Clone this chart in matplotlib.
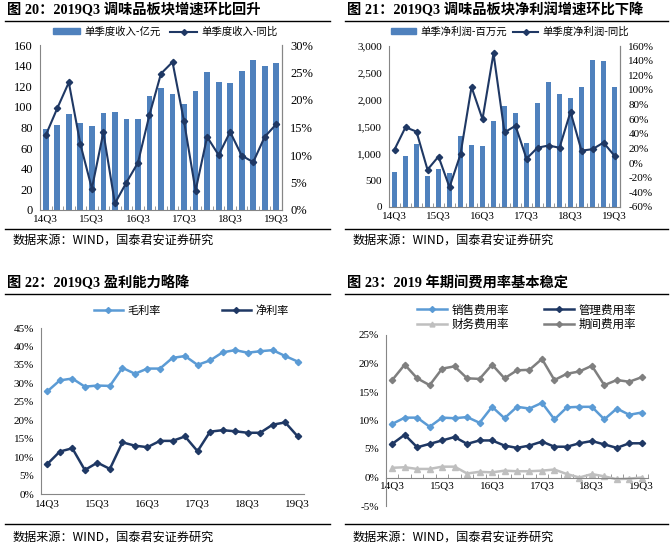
import numpy as np
import matplotlib
matplotlib.use("Agg")
import matplotlib.pyplot as plt
from matplotlib.lines import Line2D
from matplotlib.patches import Patch
from matplotlib.ticker import FuncFormatter, FixedLocator

plt.rcParams['font.family'] = ['Liberation Serif', 'Noto Sans CJK SC', 'DejaVu Sans']
CJK = ['Noto Sans CJK SC', 'DejaVu Sans']
SERIF = ['Liberation Serif', 'Noto Sans CJK SC']

quarters = ['14Q3', '14Q4', '15Q1', '15Q2', '15Q3', '15Q4', '16Q1', '16Q2', '16Q3', '16Q4',
            '17Q1', '17Q2', '17Q3', '17Q4', '18Q1', '18Q2', '18Q3', '18Q4', '19Q1', '19Q2', '19Q3']
tick_labels = ['14Q3', '15Q3', '16Q3', '17Q3', '18Q3', '19Q3']

revenue = [78.5, 82.4, 93, 84, 81, 94, 94.7, 88, 88, 110.5, 118, 112.5, 103, 115, 134, 124, 123, 134.5, 145.5, 140, 143]
revenue_yoy = [13.6, 18.5, 23.2, 12.0, 3.9, 14.1, 1.2, 5.0, 8.6, 17.3, 24.8, 26.9, 16.1, 3.5, 13.3, 10.0, 14.2, 9.9, 8.7, 13.3, 15.6]

profit = [649, 958, 1175, 569, 699, 637, 1323, 1156, 1138, 1602, 1880, 1744, 1194, 1936, 2325, 2109, 2035, 2245, 2746, 2715, 2232]
profit_yoy = [18.5, 49, 43, -9, 9, -33, 12, 104, 60, 150, 42, 51, 6, 21, 24, 21, 70, 17, 19, 28, 10]

gross_margin = [27.8, 30.8, 31.3, 29.1, 29.4, 29.3, 34.2, 32.6, 34.0, 34.0, 36.9, 37.4, 35.0, 36.2, 38.4, 39.0, 38.3, 38.7, 39.0, 37.4, 35.9]
net_margin = [8.1, 11.5, 12.4, 6.5, 8.5, 6.8, 14.0, 13.1, 12.7, 14.4, 14.4, 15.6, 11.6, 16.9, 17.3, 17.0, 16.6, 16.6, 18.8, 19.4, 15.6]

sales_rate = [9.4, 10.5, 10.5, 8.9, 10.5, 10.4, 10.6, 9.6, 12.4, 10.4, 12.4, 12.1, 13.1, 10.2, 12.3, 12.4, 12.4, 10.2, 12.1, 11.0, 11.4]
admin_rate = [5.9, 7.5, 5.3, 5.9, 6.5, 7.1, 5.9, 6.5, 6.5, 5.6, 5.2, 5.6, 6.3, 5.4, 5.4, 6.0, 6.4, 5.8, 5.2, 6.0, 6.0]
finance_rate = [1.7, 1.8, 1.5, 1.5, 1.9, 1.9, 0.7, 1.0, 0.9, 1.2, 1.1, 1.1, 1.2, 1.4, 0.6, 0.0, 0.6, 0.2, -0.3, -0.2, 0.0]
period_rate = [17.1, 19.8, 17.4, 16.2, 19.1, 19.5, 17.4, 17.3, 19.8, 17.4, 18.8, 18.9, 20.8, 17.1, 18.2, 18.6, 19.6, 16.2, 17.1, 16.8, 17.6]

titles = ['图 20：2019Q3 调味品板块增速环比回升',
          '图 21：2019Q3 调味品板块净利润增速环比下降',
          '图 22：2019Q3 盈利能力略降',
          '图 23：2019 年期间费用率基本稳定']
source = '数据来源：WIND，国泰君安证券研究'

W, H = 671, 549
fig = plt.figure(figsize=(W / 100, H / 100), dpi=100)
fig.patch.set_facecolor('white')

BAR = '#4F81BD'
NAVY = '#1F3864'
LIGHT = '#5B9BD5'
GRAY = '#7F7F7F'
LGRAY = '#BFBFBF'
SPINE = '#868686'


def rect(l, t, r, b):
    return [l / W, 1 - b / H, (r - l) / W, (b - t) / H]


def hline(x0, x1, y, lw=1.0):
    fig.add_artist(Line2D([x0 / W, x1 / W], [1 - y / H, 1 - y / H], transform=fig.transFigure,
                          color='black', lw=lw))


def ftext(x, y, s, **kw):
    fig.text(x / W, 1 - y / H, s, va='center', **kw)


def style(ax, spines=('left', 'bottom'), ysize=8):
    for s in ['left', 'right', 'top', 'bottom']:
        ax.spines[s].set_visible(s in spines)
        ax.spines[s].set_color(SPINE)
        ax.spines[s].set_linewidth(0.8)
    ax.tick_params(axis='both', length=0, labelsize=8, colors='black')
    ax.tick_params(axis='y', labelsize=ysize)
    for lab in ax.get_xticklabels() + ax.get_yticklabels():
        lab.set_family(SERIF)


pct = FuncFormatter(lambda v, p: f'{v:.0f}%')
x = np.arange(len(quarters))
tick_pos = [quarters.index(t) for t in tick_labels]

# header / footer decorations
for (x0, x1, ty, ly, fy, fly, t) in [(5, 330, 10, 21, 240, 229, titles[0]),
                                     (345, 668, 10, 21, 240, 229, titles[1]),
                                     (5, 330, 283, 294, 537, 524, titles[2]),
                                     (345, 668, 283, 294, 537, 524, titles[3])]:
    ftext(x0 + 2, ty, t, fontsize=10.3, fontweight='bold', family=SERIF)
    hline(x0, x1, ly)
    hline(x0, x1, fly)
    ftext(x0 + 8, fy, source, fontsize=8.7, family=CJK)

# Panel 1
ax1 = fig.add_axes(rect(40, 45, 282, 210))
ax1.bar(x, revenue, width=0.5, color=BAR, zorder=2)
ax1.set_xlim(-0.5, len(x) - 0.5)
ax1.set_ylim(0, 160)
ax1.set_yticks(range(0, 161, 20))
ax1.set_xticks(tick_pos)
ax1.set_xticklabels(tick_labels)
ax1.xaxis.set_minor_locator(FixedLocator(np.arange(-0.5, len(x), 1)))
ax1b = ax1.twinx()
ax1b.plot(x, revenue_yoy, color=NAVY, marker='D', ms=3.2, lw=1.5, zorder=3)
ax1b.set_ylim(0, 30)
ax1b.set_yticks(range(0, 31, 5))
ax1b.yaxis.set_major_formatter(pct)
style(ax1, ('left', 'bottom', 'right'), ysize=9)
style(ax1b, ('right',), ysize=9)
ax1.tick_params(axis='x', which='minor', length=3, direction='in', color=SPINE)
ax1.tick_params(axis='x', pad=3)
ax1.tick_params(axis='y', pad=5)
ax1b.tick_params(axis='y', pad=6)
fig.legend([Patch(color=BAR), Line2D([], [], color=NAVY, marker='D', ms=3, lw=1.5)],
           ['单季度收入-亿元', '单季度收入-同比'], loc='center left',
           bbox_to_anchor=(44 / W, 1 - 32 / H), ncol=2, frameon=False,
           prop={'family': CJK, 'size': 7.5}, handlelength=2.6, handleheight=0.5,
           columnspacing=0.9, handletextpad=0.4)

# Panel 2
ax2 = fig.add_axes(rect(389, 46, 620, 207))
ax2.bar(x, profit, width=0.5, color=BAR, zorder=2)
ax2.set_xlim(-0.5, len(x) - 0.5)
ax2.set_ylim(0, 3000)
ax2.set_yticks(range(0, 3001, 500))
ax2.yaxis.set_major_formatter(FuncFormatter(lambda v, p: f'{v:,.0f}'))
ax2.set_xticks(tick_pos)
ax2.set_xticklabels(tick_labels)
ax2.xaxis.set_minor_locator(FixedLocator(np.arange(-0.5, len(x), 1)))
ax2b = ax2.twinx()
ax2b.plot(x, profit_yoy, color=NAVY, marker='D', ms=3.2, lw=1.5, zorder=3)
ax2b.set_ylim(-60, 160)
ax2b.set_yticks(range(-60, 161, 20))
ax2b.yaxis.set_major_formatter(pct)
style(ax2, ('left', 'bottom', 'right'))
style(ax2b, ('right',))
ax2.tick_params(axis='x', which='minor', length=3, direction='in', color=SPINE)
ax2.tick_params(axis='x', pad=3)
ax2.tick_params(axis='y', pad=5)
ax2b.tick_params(axis='y', pad=6)
fig.legend([Patch(color=BAR), Line2D([], [], color=NAVY, marker='D', ms=3, lw=1.5)],
           ['单季净利润-百万元', '单季度净利润-同比'], loc='center left',
           bbox_to_anchor=(382 / W, 1 - 32 / H), ncol=2, frameon=False,
           prop={'family': CJK, 'size': 7.5}, handlelength=2.4, handleheight=0.5,
           columnspacing=0.6, handletextpad=0.4)

# Panel 3
ax3 = fig.add_axes(rect(41, 328, 304, 494))
ax3.plot(x, gross_margin, color=LIGHT, marker='D', ms=3.2, lw=1.8)
ax3.plot(x, net_margin, color=NAVY, marker='D', ms=3.2, lw=1.8)
ax3.set_xlim(-0.5, len(x) - 0.5)
ax3.set_ylim(0, 45)
ax3.set_yticks(range(0, 46, 5))
ax3.yaxis.set_major_formatter(pct)
ax3.set_xticks(tick_pos)
ax3.set_xticklabels(tick_labels)
style(ax3, ('left', 'bottom'))
ax3.tick_params(axis='x', pad=4)
ax3.tick_params(axis='y', pad=5)
fig.legend([Line2D([], [], color=LIGHT, marker='D', ms=3, lw=1.8),
            Line2D([], [], color=NAVY, marker='D', ms=3, lw=1.8)],
           ['毛利率', '净利率'], loc='center left',
           bbox_to_anchor=(84 / W, 1 - 311 / H), ncol=2, frameon=False,
           prop={'family': CJK, 'size': 8}, handlelength=2.6,
           columnspacing=5.5, handletextpad=0.4)

# Panel 4
ax4 = fig.add_axes(rect(386, 335, 648, 506))
ax4.plot(x, sales_rate, color=LIGHT, marker='D', ms=3.2, lw=1.8)
ax4.plot(x, admin_rate, color=NAVY, marker='D', ms=3.2, lw=1.8)
ax4.plot(x, finance_rate, color=LGRAY, marker='^', ms=3.8, lw=1.8)
ax4.plot(x, period_rate, color=GRAY, marker='D', ms=3.2, lw=1.8)
ax4.set_xlim(-0.5, len(x) - 0.5)
ax4.set_ylim(-5, 25)
ax4.set_yticks(range(-5, 26, 5))
ax4.yaxis.set_major_formatter(pct)
ax4.set_xticks(tick_pos)
ax4.set_xticklabels(tick_labels)
ax4.xaxis.set_minor_locator(FixedLocator(np.arange(-0.5, len(x), 1)))
style(ax4, ('left', 'bottom'))
ax4.spines['bottom'].set_position(('data', 0))
ax4.tick_params(axis='x', which='minor', length=3, direction='in', color=SPINE)
ax4.tick_params(axis='x', pad=3)
ax4.tick_params(axis='y', pad=5)
fig.legend([Line2D([], [], color=LIGHT, marker='D', ms=3, lw=1.8),
            Line2D([], [], color=LGRAY, marker='^', ms=3.5, lw=1.8),
            Line2D([], [], color=NAVY, marker='D', ms=3, lw=1.8),
            Line2D([], [], color=GRAY, marker='D', ms=3, lw=1.8)],
           ['销售费用率', '财务费用率', '管理费用率', '期间费用率'], loc='center left',
           bbox_to_anchor=(407 / W, 1 - 317 / H), ncol=2, frameon=False,
           prop={'family': CJK, 'size': 8.3}, handlelength=2.6,
           columnspacing=3.0, handletextpad=0.4, labelspacing=0.1)

fig.savefig('out.png', dpi=100, facecolor='white')
